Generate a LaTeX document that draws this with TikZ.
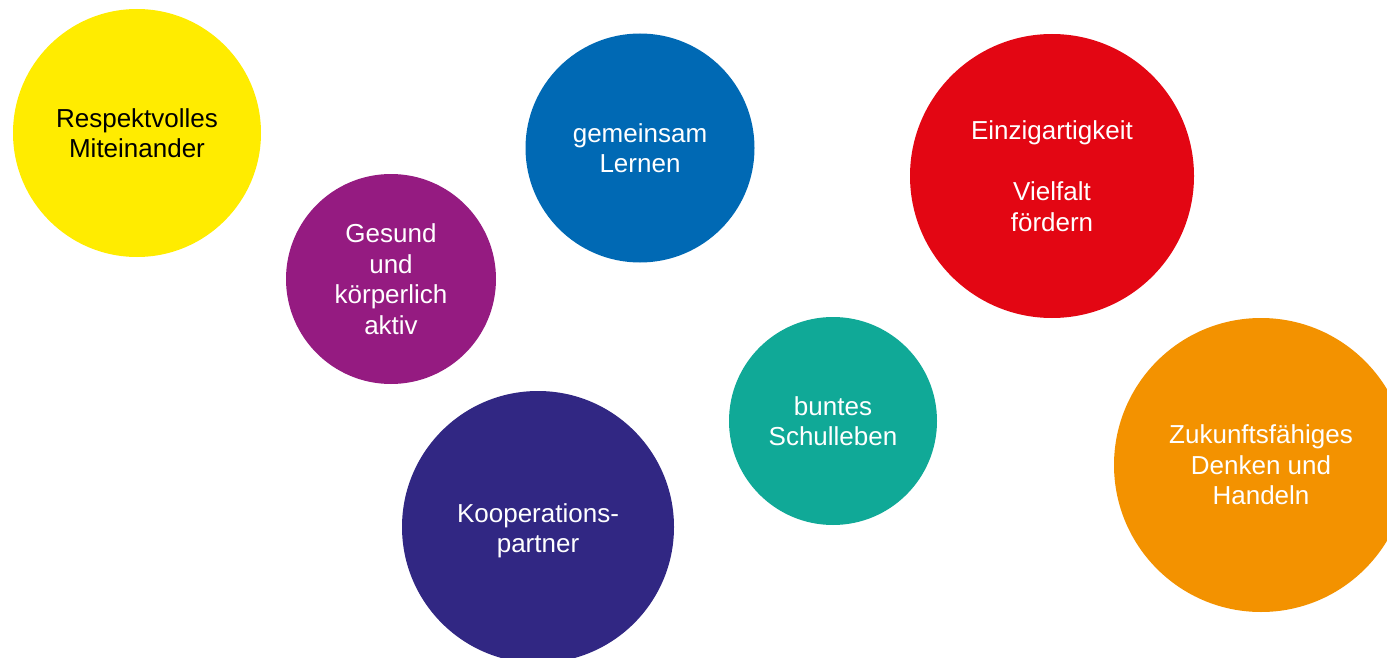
\documentclass[tikz,border=0pt]{standalone}
\usepackage{fontspec}
\setmainfont{Liberation Sans}
\definecolor{cyellow}{HTML}{FFEC00}
\definecolor{cpurple}{HTML}{951B81}
\definecolor{cblue}{HTML}{0069B4}
\definecolor{cred}{HTML}{E30613}
\definecolor{cteal}{HTML}{10A997}
\definecolor{cindigo}{HTML}{312783}
\definecolor{corange}{HTML}{F39200}
\tikzset{
  bubble/.style={circle, draw=none, inner sep=0pt, align=center,
    font=\fontsize{26}{30.5}\selectfont, text=white},
  bubbletext/.style={inner sep=0pt, align=center,
    font=\fontsize{26}{30.5}\selectfont, text=white},
}
\begin{document}
\begin{tikzpicture}[x=1pt,y=-1pt]
  \useasboundingbox (0,0) rectangle (1387,658);
  \begin{scope}
    \clip (0,0) rectangle (1387,658);
    \node[bubble, fill=cyellow, text=black, minimum size=248pt] (respekt) at (137,133) {Respektvolles\\Miteinander};
    \node[bubble, fill=cpurple, minimum size=210pt] (gesund) at (391,279) {Gesund\\und\\körperlich\\aktiv};
    \node[bubble, fill=cblue, minimum size=229pt] (lernen) at (640,148) {gemeinsam\\Lernen};
    \node[bubble, fill=cred, minimum size=284pt] (vielfalt) at (1052,176) {Einzigartigkeit\\[30.5pt]Vielfalt\\fördern};
    \node[bubble, fill=cteal, minimum size=208pt] (schulleben) at (833,421) {buntes\\Schulleben};
    \node[bubble, fill=cindigo, minimum size=272pt] (koop) at (538,527) {};
    \node[bubbletext] (kooptext) at ([yshift=-4pt]koop.center) {Kooperations-\\partner};
    \node[bubble, fill=corange, minimum size=294pt] (zukunft) at (1261,465) {Zukunftsfähiges\\Denken und\\Handeln};
  \end{scope}
\end{tikzpicture}
\end{document}
